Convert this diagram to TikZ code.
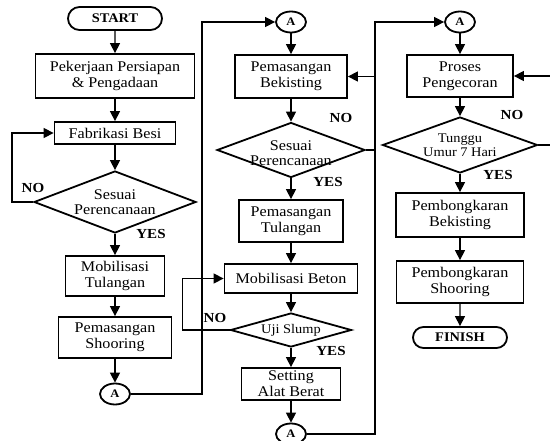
\documentclass[tikz,border=0pt]{standalone}
\usepackage{fontspec}
\setmainfont{Liberation Serif}
\newfontfamily\wideserif{Liberation Serif}[FakeStretch=1.09]
\usetikzlibrary{shapes.geometric,shapes.misc,arrows.meta}

\begin{document}
\begin{tikzpicture}[x=1pt,y=-1pt,
  line width=1.4pt,
  >={Triangle[width=10pt,length=10pt]},
  box/.style={draw, line width=1.8pt, align=center, inner sep=0pt,
    font=\wideserif\fontsize{14.8}{16}\selectfont},
  term/.style={draw, rounded rectangle, line width=1.8pt, inner sep=0pt,
    font=\wideserif\fontsize{13.2}{14}\selectfont\bfseries},
  conn/.style={draw, ellipse, minimum width=30pt, minimum height=21pt,
    inner sep=0pt, line width=1.8pt, font=\wideserif\fontsize{11.5}{13}\selectfont\bfseries},
  dia/.style={draw, diamond, inner sep=0pt, line width=1.8pt},
  diatext/.style={align=center, inner sep=0pt, font=\wideserif\fontsize{14.8}{15}\selectfont},
  diasmall/.style={align=center, inner sep=0pt, font=\wideserif\fontsize{13.2}{13.5}\selectfont},
  lab/.style={inner sep=1pt, font=\wideserif\fontsize{13.8}{14}\selectfont\bfseries}
]
\useasboundingbox (0,0) rectangle (550,441);
\clip (0,0) rectangle (550,441);

% ---- first column
\node[term, minimum width=94pt, minimum height=23pt] (start) at (115,18.5) {START};
\node[box, minimum width=159pt, minimum height=44pt] (b1) at (115,76) {Pekerjaan Persiapan\\\& Pengadaan};
\node[box, minimum width=121pt, minimum height=22pt] (b2) at (115,133) {Fabrikasi Besi};
\node[dia, minimum width=162pt, minimum height=62pt] (d1) at (115,202) {};
\node[diatext] (d1t) at (d1) {Sesuai\\Perencanaan};
\node[box, minimum width=99pt, minimum height=40pt] (b3) at (115,276) {Mobilisasi\\Tulangan};
\node[box, minimum width=113pt, minimum height=41pt] (b4) at (115,337.5) {Pemasangan\\Shooring};
\node[conn] (a1) at (115,394) {A};

% ---- second column
\node[conn] (a2) at (291,22) {A};
\node[box, minimum width=112pt, minimum height=43pt] (c1) at (291,76.5) {Pemasangan\\Bekisting};
\node[dia, minimum width=148pt, minimum height=55pt] (d2) at (291,150) {};
\node[diatext] (d2t) at (291,153) {Sesuai\\Perencanaan};
\node[box, minimum width=104pt, minimum height=42pt] (c2) at (291,221) {Pemasangan\\Tulangan};
\node[box, minimum width=133pt, minimum height=29pt] (c3) at (291,278.5) {Mobilisasi Beton};
\node[dia, minimum width=121pt, minimum height=34pt] (d3) at (291,330) {};
\node[diasmall] (d3t) at (d3) {Uji Slump};
\node[box, minimum width=99pt, minimum height=32pt] (c4) at (291,384) {Setting\\Alat Berat};
\node[conn] (a3) at (291,434) {A};

% ---- third column
\node[conn] (a4) at (460,22) {A};
\node[box, minimum width=106pt, minimum height=42pt] (e1) at (460,76) {Proses\\Pengecoran};
\node[dia, minimum width=155pt, minimum height=56pt] (e2) at (460,145) {};
\node[diasmall] (e2t) at (e2) {Tunggu\\Umur 7 Hari};
\node[box, minimum width=128pt, minimum height=44pt] (e3) at (460,215) {Pembongkaran\\Bekisting};
\node[box, minimum width=127pt, minimum height=42pt] (e4) at (460,282) {Pembongkaran\\Shooring};
\node[term, minimum width=94pt, minimum height=21pt] (fin) at (460,337.5) {FINISH};

% ---- main flow
\draw[->] (start) -- (b1);
\draw[->] (b1) -- (b2);
\draw[->] (b2) -- (d1);
\draw[->] (d1) -- (b3);
\draw[->] (b3) -- (b4);
\draw[->] (b4) -- (a1);

\draw[->] (a2) -- (c1);
\draw[->] (c1) -- (d2);
\draw[->] (d2) -- (c2);
\draw[->] (c2) -- (c3);
\draw[->] (c3) -- (d3);
\draw[->] (d3) -- (c4);
\draw[->] (c4) -- (a3);

\draw[->] (a4) -- (e1);
\draw[->] (e1) -- (e2);
\draw[->] (e2) -- (e3);
\draw[->] (e3) -- (e4);
\draw[->] (e4) -- (fin);

% ---- feedback loops
\draw[->] (d1.west) -- ++(-21,0) |- (b2.west);
\draw[->] (d2.east) -- ++(9,0) |- (c1.east);
\draw[->] (d3.west) -- ++(-47,0) |- (c3.west);
\draw[->] (e2.east) -- ++(30,0) |- (e1.east);

% ---- off-page connectors between columns
\coordinate (r1) at (202,0);
\coordinate (r2) at (375,0);
\draw[->] (a1.east) -- (a1.east -| r1) -- (r1 |- a2.west) -- (a2.west);
\draw[->] (a3.east) -- (a3.east -| r2) -- (r2 |- a4.west) -- (a4.west);

% ---- decision labels
\node[lab] (no1) at (33,188) {NO};
\node[lab] (yes1) at (151,234) {YES};
\node[lab] (no2) at (341,118) {NO};
\node[lab] (yes2) at (328,182) {YES};
\node[lab, fill=white] (no3) at (215,318) {NO};
\node[lab] (yes3) at (331,351) {YES};
\node[lab] (no4) at (512,115) {NO};
\node[lab] (yes4) at (498,175) {YES};
\end{tikzpicture}
\end{document}
